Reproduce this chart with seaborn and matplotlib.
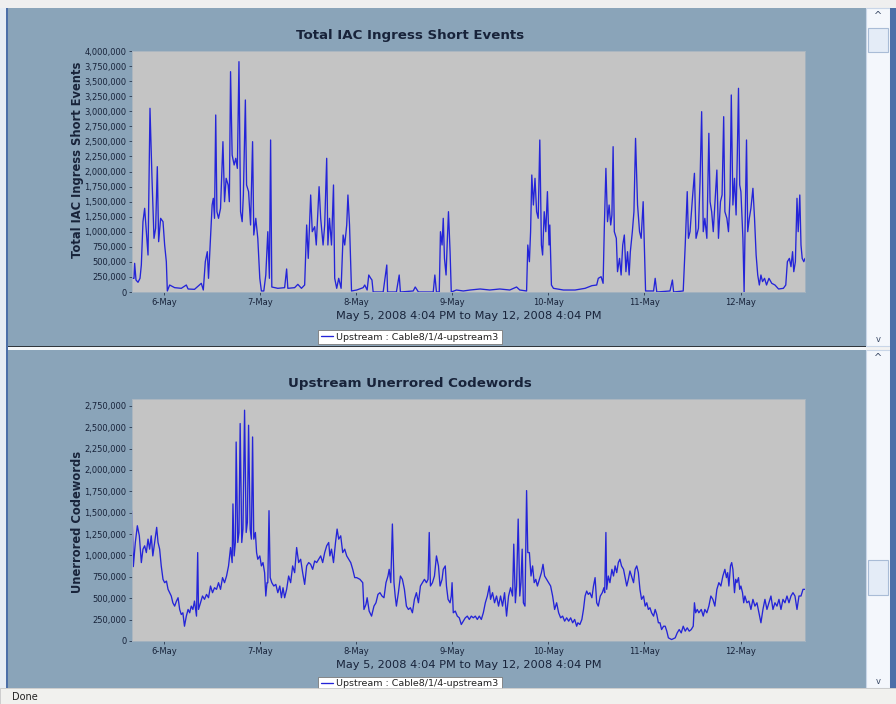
import numpy as np
import pandas as pd
import matplotlib
matplotlib.use("Agg")
import matplotlib.pyplot as plt
import matplotlib.dates as mdates
import matplotlib.ticker as mticker
from matplotlib.patches import Rectangle
import seaborn as sns

# ---------------- data (hours after May 5, 2008 4:04 PM ; values in thousands) ----------------
ingress_hours = [0.0, 0.5, 0.66, 1.0, 1.5, 2.0, 2.33, 2.74, 3.16, 3.58, 4.0, 4.49, 4.99, 5.49, 5.9, 6.32, 6.65,
                 7.15, 7.74, 8.15, 8.57, 8.82, 9.4, 10.65, 12.3, 13.56, 14.0, 15.6, 17.3, 17.8, 18.3, 18.8, 19.1,
                 19.5, 20.0, 20.3, 20.6, 20.9, 21.2, 21.6, 22.1, 22.7, 23.1, 23.5, 24.0, 24.3, 24.6, 25.0, 25.5,
                 25.9, 26.3, 26.7, 27.1, 27.5, 27.8, 28.3, 28.6, 29.1, 29.6, 30.1, 30.4, 30.9, 31.4, 31.9, 32.3,
                 32.9, 33.4, 33.9, 34.3, 34.6, 34.9, 36.4, 38.1, 38.6, 38.9, 40.6, 41.4, 42.3, 43.1, 43.6, 44.0,
                 44.6, 45.0, 45.6, 46.0, 46.7, 47.1, 47.7, 48.1, 48.6, 48.9, 49.3, 49.8, 50.3, 50.6, 51.1, 51.6,
                 52.2, 52.7, 53.1, 53.6, 53.9, 54.3, 54.8, 56.1, 57.7, 58.1, 58.7, 59.1, 59.6, 59.9, 60.2, 62.7,
                 63.6, 63.8, 66.0, 66.7, 67.0, 70.2, 70.7, 71.5, 75.2, 75.6, 76.0, 76.7, 77.0, 77.4, 77.7, 78.0,
                 78.4, 78.7, 79.0, 79.4, 79.7, 81.0, 82.7, 84.4, 86.9, 89.3, 91.8, 94.3, 96.0, 96.8, 98.5, 98.8,
                 99.2, 99.5, 99.8, 100.2, 100.6, 101.0, 101.4, 101.8, 102.2, 102.5, 102.9, 103.3, 103.7, 104.1,
                 104.3, 104.7, 105.2, 107.7, 110.6, 113.1, 114.8, 116.0, 116.4, 117.1, 117.6, 117.9, 118.3, 118.7,
                 119.1, 119.5, 119.8, 120.1, 120.4, 120.9, 121.2, 121.7, 122.1, 122.5, 122.9, 123.3, 123.7, 124.1,
                 124.4, 124.9, 125.3, 125.7, 126.2, 126.7, 127.1, 127.6, 127.9, 128.2, 130.2, 130.6, 131.0, 134.3,
                 134.9, 135.2, 137.6, 138.1, 138.6, 138.9, 139.3, 139.9, 140.4, 140.8, 141.4, 141.8, 142.2, 142.6,
                 143.0, 143.5, 144.0, 144.3, 144.7, 145.1, 145.5, 146.0, 146.4, 146.9, 147.3, 147.7, 148.0, 148.5,
                 148.9, 149.3, 149.6, 150.0, 150.4, 150.8, 151.1, 151.4, 151.7, 152.0, 152.5, 152.8, 153.0, 153.4,
                 153.7, 154.1, 154.5, 155.0, 155.4, 155.8, 156.2, 156.6, 157.0, 157.4, 157.9, 158.4, 159.0, 159.7,
                 160.5, 161.4, 162.6, 163.2, 163.6, 164.1, 164.5, 164.9, 165.2, 165.6, 166.0, 166.3, 166.7, 167.0,
                 167.3, 167.7, 168.0]
ingress_k = [227, 227, 476, 199, 161, 227, 448, 1167, 1389, 1001, 614, 3049, 1887, 891, 1057, 2080, 835,
             1223, 1167, 780, 503, 17, 116, 72, 61, 116, 50, 44, 144, 33, 503, 669, 227,
             780, 1444, 1555, 1223, 2938, 1333, 1223, 1389, 2495, 1499, 1887, 1776, 1499, 3657, 2274, 2108,
             2219, 2052, 3823, 1333, 1167, 1610, 3187, 1776, 1666, 1112, 2495, 946, 1223, 891, 227, 17,
             17, 282, 1001, 227, 2523, 83, 61, 72, 382, 61, 72, 127, 61, 116, 1112, 558,
             1610, 1001, 1084, 780, 1748, 1223, 780, 1112, 2219, 780, 1223, 780, 1776, 227, 61, 227,
             61, 946, 780, 1112, 1610, 1112, 17, 33, 72, 116, 33, 282, 227, 199, 0, 0,
             448, 0, 0, 282, 0, 17, 83, 0, 0, 282, 0, 0, 1001, 780, 1223, 558,
             282, 835, 1333, 669, 0, 33, 17, 33, 50, 33, 50, 33, 83, 33, 17, 780,
             503, 1001, 1942, 1444, 1887, 1333, 1223, 2523, 780, 614, 1333, 1001, 1666, 780,
             1112, 116, 61, 33, 33, 61, 105, 116, 227, 254, 144, 1057, 2052, 1167,
             1444, 1112, 1278, 2412, 1001, 891, 337, 558, 282, 780, 946, 337, 669, 282,
             669, 1001, 1333, 2550, 1444, 1001, 891, 1499, 780, 17, 17, 227, 0, 17,
             199, 0, 17, 780, 1666, 891, 1001, 1555, 1970, 891, 1057, 1831, 2993, 1001,
             1223, 891, 2634, 1499, 1333, 1001, 1444, 2024, 891, 1499, 1610, 2910, 1333, 1223,
             1001, 1610, 3270, 1444, 1887, 1278, 2274, 3381, 1776, 1666, 891, 0, 891, 2523,
             1001, 1223, 1389, 1721, 1223, 614, 282, 116, 282, 172, 227, 116, 227, 144,
             116, 50, 61, 116, 503, 558, 420, 669, 337, 503, 1555, 1001, 1610, 780,
             558, 503, 558]

codeword_hours = [0.0, 0.33, 0.83, 1.33, 1.83, 2.33, 2.74, 3.16, 3.58, 4.0, 4.4, 4.8, 5.2, 5.66, 6.16, 6.5, 6.9,
                  7.3, 7.74, 8.15, 8.6, 9.0, 9.4, 9.8, 10.2, 10.65, 11.1, 11.5, 11.9, 12.3, 12.7, 13.1, 13.56,
                  14.0, 14.4, 14.8, 15.2, 15.6, 16.1, 16.4, 16.6, 17.1, 17.6, 18.1, 18.6, 19.1, 19.6, 20.1, 20.6,
                  21.1, 21.6, 22.1, 22.6, 23.1, 23.6, 24.1, 24.6, 25.0, 25.2, 25.5, 25.8, 26.0, 26.4, 26.7, 27.0,
                  27.4, 27.7, 28.1, 28.5, 28.8, 29.1, 29.5, 29.8, 30.1, 30.4, 30.8, 31.1, 31.4, 31.9, 32.3, 32.7,
                  33.1, 33.4, 33.7, 33.9, 34.2, 34.5, 34.9, 35.4, 35.9, 36.4, 36.9, 37.3, 37.7, 38.1, 38.6, 39.1,
                  39.6, 40.1, 40.6, 41.1, 41.6, 42.1, 42.6, 43.1, 43.6, 44.1, 44.6, 45.1, 45.6, 46.1, 46.6, 47.1,
                  47.6, 48.1, 48.6, 49.1, 49.4, 49.8, 50.3, 50.8, 51.2, 51.6, 52.1, 52.6, 53.1, 53.6, 54.1, 54.6,
                  55.1, 55.6, 56.1, 56.9, 57.6, 57.9, 58.4, 58.7, 59.2, 59.8, 60.4, 60.9, 61.4, 61.9, 62.4, 62.9,
                  63.4, 63.9, 64.2, 64.6, 65.0, 65.4, 65.7, 66.0, 66.5, 67.0, 67.5, 68.0, 68.5, 69.0, 69.5, 70.0,
                  70.5, 71.0, 71.5, 72.0, 72.5, 73.0, 73.5, 73.9, 74.2, 74.5, 75.0, 75.5, 76.0, 76.5, 76.9, 77.4,
                  77.7, 78.2, 78.5, 78.9, 79.4, 79.7, 79.9, 80.2, 80.7, 81.2, 81.7, 82.2, 82.7, 83.2, 83.7, 84.2,
                  84.7, 85.2, 85.7, 86.2, 86.7, 87.2, 87.7, 88.2, 88.7, 89.2, 89.5, 90.0, 90.5, 91.0, 91.5, 92.0,
                  92.5, 93.0, 93.5, 94.0, 94.5, 95.0, 95.3, 95.7, 96.0, 96.4, 96.8, 97.1, 97.4, 97.7, 98.1, 98.5,
                  98.8, 99.2, 99.6, 100.0, 100.4, 100.8, 101.2, 101.7, 102.2, 102.6, 103.0, 103.5, 104.0, 104.5,
                  105.0, 105.5, 106.0, 106.5, 107.0, 107.5, 108.0, 108.5, 109.0, 109.5, 110.0, 110.5, 111.0, 111.3,
                  111.8, 112.3, 112.7, 113.1, 113.5, 113.9, 114.3, 114.8, 115.2, 115.6, 116.0, 116.4, 116.9, 117.4,
                  117.8, 118.0, 118.3, 118.5, 118.9, 119.3, 119.8, 120.2, 120.6, 121.0, 121.4, 121.8, 122.2, 122.7,
                  123.1, 123.5, 123.9, 124.3, 124.7, 125.2, 125.6, 126.0, 126.4, 126.8, 127.2, 127.7, 128.1, 128.5,
                  128.9, 129.3, 129.7, 130.2, 130.6, 131.0, 131.4, 131.8, 132.2, 132.7, 133.1, 133.5, 133.9, 134.7,
                  135.6, 136.1, 136.6, 137.1, 137.6, 138.1, 138.6, 139.1, 139.6, 140.1, 140.4, 140.7, 141.1, 141.5,
                  142.1, 142.6, 143.0, 143.5, 144.0, 144.5, 145.0, 145.5, 146.0, 146.5, 147.0, 147.5, 148.0, 148.4,
                  148.7, 149.0, 149.4, 149.7, 150.0, 150.4, 150.7, 151.0, 151.4, 151.7, 152.0, 152.4, 152.7, 153.0,
                  153.5, 154.0, 154.5, 155.0, 155.5, 156.0, 156.5, 157.0, 157.5, 158.0, 158.5, 159.0, 159.5, 160.0,
                  160.5, 161.0, 161.5, 162.0, 162.5, 163.0, 163.5, 164.0, 164.5, 165.0, 165.5, 166.0, 166.5, 167.0,
                  167.5, 168.0]
codeword_k = [1520, 870, 1152, 1348, 1230, 917, 1074, 1113, 1034, 1191, 1074, 1230, 995, 1152, 1329, 1152, 1074,
              878, 721, 682, 701, 604, 565, 526, 447, 408, 467, 506, 369, 310, 330, 173, 291,
              369, 330, 408, 369, 467, 291, 1034, 369, 447, 526, 487, 545, 506, 643, 565, 623,
              604, 682, 604, 741, 682, 760, 878, 1093, 917, 1603, 995, 1152, 2327, 1152, 1269, 2543,
              1152, 1309, 2699, 1269, 1387, 2523, 1309, 1191, 2386, 1191, 1269, 1034, 956, 995, 878, 917,
              799, 526, 682, 682, 1524, 741, 682, 643, 662, 565, 643, 506, 623, 506, 604, 760,
              682, 878, 799, 1093, 917, 956, 799, 662, 878, 917, 897, 838, 936, 917, 956, 995,
              917, 1034, 1113, 1152, 995, 1074, 917, 1152, 1309, 1191, 1230, 1034, 1074, 995, 956, 917,
              838, 741, 741, 721, 682, 369, 428, 506, 350, 291, 408, 447, 545, 565, 526, 506,
              682, 760, 838, 682, 1368, 682, 526, 408, 565, 760, 721, 604, 408, 369, 389, 330,
              487, 565, 447, 643, 682, 721, 682, 721, 1269, 643, 682, 760, 995, 878, 643, 721,
              838, 878, 643, 487, 447, 526, 682, 330, 350, 291, 271, 193, 232, 271, 291, 252,
              291, 271, 291, 252, 291, 252, 330, 447, 526, 643, 487, 565, 447, 526, 408, 526,
              408, 565, 291, 526, 623, 526, 1133, 447, 643, 1426, 526, 682, 1074, 447, 408, 1759,
              1034, 1034, 760, 878, 682, 721, 643, 721, 799, 897, 760, 721, 682, 643,
              526, 369, 447, 330, 271, 291, 232, 271, 232, 271, 213, 252, 173, 213,
              193, 252, 369, 526, 584, 545, 565, 506, 643, 741, 447, 408, 526, 565,
              623, 565, 1269, 604, 760, 682, 838, 760, 878, 799, 917, 956, 878, 838,
              741, 643, 721, 819, 760, 682, 838, 878, 799, 604, 487, 526, 408, 447,
              369, 389, 330, 291, 369, 310, 213, 213, 134, 173, 173, 115, 37, 17,
              37, 95, 134, 95, 173, 115, 154, 115, 134, 173, 447, 330, 369, 330,
              369, 291, 369, 330, 408, 526, 487, 408, 604, 682, 643, 760, 838, 741,
              799, 643, 878, 917, 838, 565, 721, 682, 741, 604, 643, 565, 447, 526,
              447, 467, 369, 487, 408, 447, 330, 213, 369, 487, 369, 447, 526, 369,
              447, 408, 487, 369, 487, 447, 526, 447, 526, 565, 526, 369, 526, 526,
              604, 604]

start_time = "2008-05-05 16:04"
end_time = "2008-05-12 16:04"
series_label = "Upstream : Cable8/1/4-upstream3"
titles = ["Total IAC Ingress Short Events", "Upstream Unerrored Codewords"]
ylabels = ["Total IAC Ingress Short Events", "Unerrored Codewords"]
xlabel_text = "May 5, 2008 4:04 PM to May 12, 2008 4:04 PM"
ymax = [4_000_000, 2_830_000]

# ---------------- styling ----------------
W, H = 896, 704
PANEL = "#8AA4B9"
PLOTBG = "#C4C4C4"
LINE = "#2424D8"
TXT = "#18233A"

sns.set_theme(style="white")
plt.rcParams["font.family"] = ["DejaVu Sans"]

fig = plt.figure(figsize=(W / 100, H / 100), dpi=100, facecolor="#F2F2F2")


def rect(x0, y0, x1, y1, **kw):
    r = Rectangle((x0 / W, 1 - y1 / H), (x1 - x0) / W, (y1 - y0) / H,
                  transform=fig.transFigure, **kw)
    fig.add_artist(r)
    return r


# panels and window chrome
rect(0, 0, 896, 8, facecolor="#EFEFEF", edgecolor="none", zorder=-5)
rect(0, 8, 8, 688, facecolor="#E6ECF4", edgecolor="none", zorder=-5)
rect(6, 8, 8, 688, facecolor="#4C6FA8", edgecolor="none", zorder=-4)
rect(8, 8, 866, 346, facecolor=PANEL, edgecolor="none", zorder=-3)
rect(8, 346, 866, 350, facecolor="#F4F6F8", edgecolor="none", zorder=-3)
rect(8, 346, 866, 347, facecolor="#30363C", edgecolor="none", zorder=-2)
rect(8, 350, 866, 688, facecolor=PANEL, edgecolor="none", zorder=-3)
# scrollbars
for (y0, y1, t0, t1) in [(8, 346, 28, 52), (350, 688, 560, 595)]:
    rect(866, y0, 890, y1, facecolor="#F4F7FC", edgecolor="#C9D6E8", linewidth=0.8, zorder=-3)
    rect(868, t0, 888, t1, facecolor="#E4ECF7", edgecolor="#A9BCD6", linewidth=0.8, zorder=-2)
    fig.text(878 / W, 1 - (y0 + 8) / H, "^", ha="center", va="center", fontsize=7, color="#3A4A66")
    fig.text(878 / W, 1 - (y1 - 6) / H, "v", ha="center", va="center", fontsize=6, color="#3A4A66")
rect(890, 8, 896, 688, facecolor="#4C6FA8", edgecolor="none", zorder=-3)
# status bar
rect(0, 688, 896, 704, facecolor="#F1F1EE", edgecolor="#C8C8C8", linewidth=0.6, zorder=10)
fig.text(12 / W, 1 - 697 / H, "Done", ha="left", va="center", fontsize=7, color="#222222", zorder=11)

t0 = pd.Timestamp(start_time)
t1 = pd.Timestamp(end_time)

frames = [
    pd.DataFrame({"time": t0 + pd.to_timedelta(ingress_hours, unit="h"),
                  "value": np.array(ingress_k) * 1000.0}),
    pd.DataFrame({"time": t0 + pd.to_timedelta(codeword_hours, unit="h"),
                  "value": np.array(codeword_k) * 1000.0}),
]

axes_px = [(132, 51, 805, 292), (132, 399, 805, 641)]
title_y = [36, 384]
legend_y = [337, 684]
ylabel_ypos = [0.55, 0.49]

for i, df in enumerate(frames):
    x0, y0, x1, y1 = axes_px[i]
    ax = fig.add_axes([x0 / W, 1 - y1 / H, (x1 - x0) / W, (y1 - y0) / H])
    ax.set_facecolor(PLOTBG)
    sns.lineplot(data=df, x="time", y="value", ax=ax, color=LINE, linewidth=0.95,
                 estimator=None, label=series_label)
    ax.set_xlim(t0, t1)
    ax.set_ylim(0, ymax[i])
    ax.yaxis.set_major_locator(mticker.MultipleLocator(250_000))
    ax.yaxis.set_major_formatter(mticker.StrMethodFormatter("{x:,.0f}"))
    ax.xaxis.set_major_locator(mdates.DayLocator())
    ax.xaxis.set_major_formatter(mdates.DateFormatter("%-d-%b"))
    ax.tick_params(axis="both", which="major", labelsize=6, colors=TXT, length=2,
                   width=0.5, pad=2, direction="out", left=True, bottom=True)
    for s in ax.spines.values():
        s.set_color("#A7B4C0")
        s.set_linewidth(0.6)
    ax.set_xlabel(xlabel_text, fontsize=8.2, color=TXT, labelpad=3)
    ax.set_ylabel(ylabels[i], fontsize=8.3, fontweight="bold", color=TXT)
    ax.yaxis.set_label_coords(-0.071, ylabel_ypos[i])
    fig.text(410 / W, 1 - title_y[i] / H, titles[i], ha="center", va="center",
             fontsize=9.6, fontweight="bold", color=TXT)
    leg = ax.legend(loc="center", bbox_to_anchor=(410 / W, 1 - legend_y[i] / H),
                    bbox_transform=fig.transFigure, frameon=True, fancybox=False,
                    fontsize=6.8, handlelength=1.2, handletextpad=0.4, borderpad=0.3)
    leg.get_frame().set_edgecolor("#7A7A7A")
    leg.get_frame().set_linewidth(0.6)
    leg.get_frame().set_facecolor("white")
    leg.get_frame().set_alpha(1)
    for t in leg.get_texts():
        t.set_color("#222222")

fig.savefig("out.png", dpi=100, facecolor=fig.get_facecolor())
